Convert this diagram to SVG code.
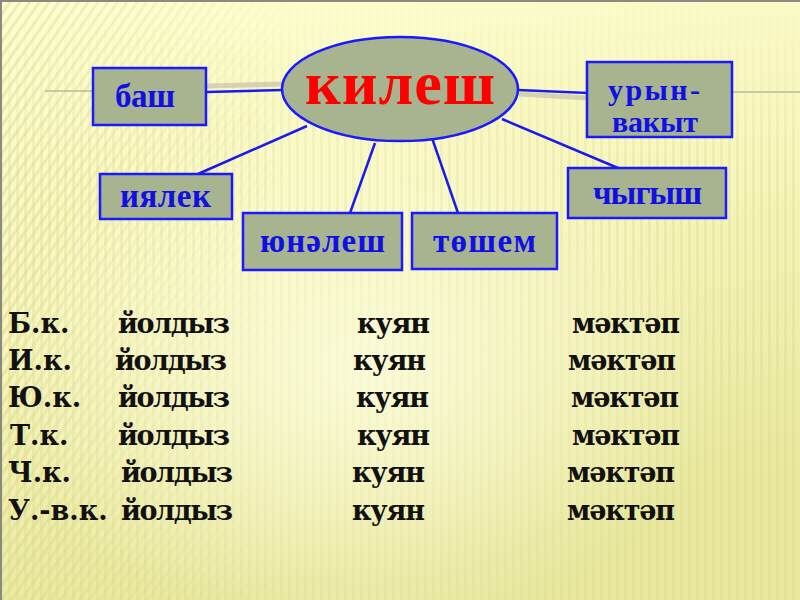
<svg xmlns="http://www.w3.org/2000/svg" width="800" height="600" viewBox="0 0 800 600">
  <defs>
    <linearGradient id="bg" x1="0" y1="0" x2="0.3" y2="1">
      <stop offset="0" stop-color="#fefed2"/>
      <stop offset="0.5" stop-color="#f7f6bd"/>
      <stop offset="1" stop-color="#e9e89e"/>
    </linearGradient>
    <radialGradient id="glow" cx="0.45" cy="0.62" r="0.45">
      <stop offset="0" stop-color="#ffffe8" stop-opacity="0.7"/>
      <stop offset="1" stop-color="#ffffe8" stop-opacity="0"/>
    </radialGradient>
    <linearGradient id="fadeL" x1="0" y1="0" x2="1" y2="0">
      <stop offset="0" stop-color="#fff"/>
      <stop offset="1" stop-color="#000"/>
    </linearGradient>
    <linearGradient id="fadeT" x1="0" y1="0" x2="0" y2="1">
      <stop offset="0" stop-color="#000"/>
      <stop offset="0.3" stop-color="#fff"/>
      <stop offset="1" stop-color="#fff"/>
    </linearGradient>
    <mask id="mL"><rect x="0" y="0" width="300" height="600" fill="url(#fadeL)"/></mask>
    <mask id="mT"><rect x="0" y="0" width="800" height="600" fill="url(#fadeT)"/></mask>
    <pattern id="stripes" width="8" height="8" patternUnits="userSpaceOnUse">
      <rect x="0" y="0" width="3" height="8" fill="#d9d78a" opacity="0.3"/>
    </pattern>
    <pattern id="diag" width="8" height="8" patternUnits="userSpaceOnUse" patternTransform="rotate(35)">
      <rect x="0" y="0" width="3" height="8" fill="#d9d78a" opacity="0.45"/>
    </pattern>
  </defs>
  <style>
    .box { fill: #a7b48f; stroke: #1a1aff; stroke-width: 2.5; }
    .conn { stroke: #1a1aee; stroke-width: 2.5; fill: none; }
    .deco { stroke: #b8b89a; stroke-width: 1.5; }
    .lbl { font-family: "Liberation Serif", "Times New Roman", serif; font-weight: bold; font-size: 33px; fill: #1010e6; }
    .lbl2 { font-size: 30px; }
    .main { font-family: "Liberation Serif", "Times New Roman", serif; font-weight: bold; font-size: 62px; fill: #ff0000; }
    .row { font-family: "DejaVu Serif", "Liberation Serif", serif; font-weight: bold; font-size: 27px; fill: #111111; }
  </style>

  <rect x="0" y="0" width="800" height="600" fill="url(#bg)"/>
  <rect x="0" y="0" width="800" height="600" fill="url(#stripes)" mask="url(#mT)"/>
  <rect x="0" y="0" width="300" height="600" fill="url(#diag)" mask="url(#mL)"/>
  <rect x="0" y="0" width="800" height="600" fill="url(#glow)"/>
  <path d="M1 600 V1 H800" stroke="#8a8a80" stroke-width="2" fill="none"/>

  <g id="decor">
    <line class="deco" x1="45" y1="91" x2="94" y2="91"/>
    <line class="deco" x1="732" y1="92" x2="800" y2="92"/>
    <line x1="206" y1="86" x2="282" y2="84" stroke="#c8c4a8" stroke-width="5" opacity="0.7"/>
    <line x1="519" y1="94" x2="587" y2="98" stroke="#c8c4a8" stroke-width="5" opacity="0.7"/>
  </g>

  <g id="connectors">
    <line class="conn" x1="207" y1="92" x2="283" y2="90"/>
    <line class="conn" x1="518" y1="90" x2="588" y2="93"/>
    <line class="conn" x1="307" y1="126" x2="198" y2="174"/>
    <line class="conn" x1="375" y1="143" x2="350" y2="213"/>
    <line class="conn" x1="432" y1="138" x2="458" y2="213"/>
    <line class="conn" x1="502" y1="119" x2="618" y2="168"/>
  </g>

  <g id="n-kilesh">
    <ellipse class="box" cx="400" cy="89" rx="118" ry="52"/>
    <text class="main" x="305" y="104" textLength="190">килеш</text>
  </g>
  <g id="n-bash">
    <rect class="box" x="93" y="68" width="113" height="57"/>
    <text class="lbl" x="115" y="107" textLength="60">баш</text>
  </g>
  <g id="n-uryn">
    <rect class="box" x="587" y="62" width="145" height="75"/>
    <text class="lbl lbl2" x="608" y="100" textLength="92">урын-</text>
    <text class="lbl lbl2" x="612" y="132" textLength="86">вакыт</text>
  </g>
  <g id="n-iyalek">
    <rect class="box" x="100" y="174" width="132" height="45"/>
    <text class="lbl" x="120" y="207" textLength="91">иялек</text>
  </g>
  <g id="n-yunalesh">
    <rect class="box" x="243" y="213" width="159" height="57"/>
    <text class="lbl" x="260" y="252" textLength="125">юнәлеш</text>
  </g>
  <g id="n-toshem">
    <rect class="box" x="412" y="213" width="145" height="56"/>
    <text class="lbl" x="433" y="252" textLength="103">төшем</text>
  </g>
  <g id="n-chygysh">
    <rect class="box" x="568" y="168" width="158" height="50"/>
    <text class="lbl" x="593" y="204" textLength="109">чыгыш</text>
  </g>

  <g id="table">
    <text class="row" x="8" y="333">Б.к.</text>
    <text class="row" x="118" y="333" textLength="112">йолдыз</text>
    <text class="row" x="357" y="333" textLength="73">куян</text>
    <text class="row" x="572" y="333" textLength="108">мәктәп</text>

    <text class="row" x="8" y="370">И.к.</text>
    <text class="row" x="115" y="370" textLength="112">йолдыз</text>
    <text class="row" x="353" y="370" textLength="73">куян</text>
    <text class="row" x="568" y="370" textLength="108">мәктәп</text>

    <text class="row" x="8" y="407">Ю.к.</text>
    <text class="row" x="118" y="407" textLength="112">йолдыз</text>
    <text class="row" x="356" y="407" textLength="73">куян</text>
    <text class="row" x="571" y="407" textLength="108">мәктәп</text>

    <text class="row" x="10" y="445">Т.к.</text>
    <text class="row" x="118" y="445" textLength="112">йолдыз</text>
    <text class="row" x="357" y="445" textLength="73">куян</text>
    <text class="row" x="572" y="445" textLength="108">мәктәп</text>

    <text class="row" x="8" y="482">Ч.к.</text>
    <text class="row" x="121" y="482" textLength="112">йолдыз</text>
    <text class="row" x="352" y="482" textLength="73">куян</text>
    <text class="row" x="567" y="482" textLength="108">мәктәп</text>

    <text class="row" x="8" y="520">У.-в.к.</text>
    <text class="row" x="121" y="520" textLength="112">йолдыз</text>
    <text class="row" x="352" y="520" textLength="73">куян</text>
    <text class="row" x="567" y="520" textLength="108">мәктәп</text>
  </g>
</svg>
